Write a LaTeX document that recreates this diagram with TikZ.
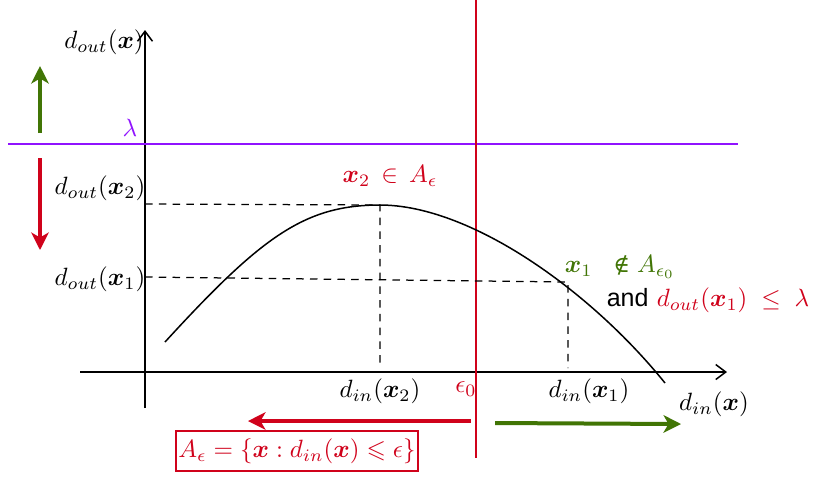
\documentclass[tikz,border=0pt]{standalone}
\usepackage{amsmath,amssymb,bm}
\usepackage{fontspec}
\newfontfamily\helv{Liberation Sans}
\newfontfamily\djs[Scale=0.9]{DejaVu Serif}
\usetikzlibrary{arrows.meta}
\definecolor{myred}{RGB}{208,2,27}
\definecolor{mygreen}{RGB}{65,117,5}
\definecolor{mypurple}{RGB}{144,19,254}
\tikzset{
  axis/.style={line width=0.6pt, -{Straight Barb[length=4pt,width=6pt]}},
  guide/.style={dashed, dash pattern=on 3pt off 2.5pt, line width=0.5pt},
  bigarrow/.style={line width=1.6pt, -{Stealth[length=7pt,width=7pt,inset=2pt]}},
  lbl/.style={inner sep=0.5pt},
}
\begin{document}
\begin{tikzpicture}[x=0.4pt,y=-0.4pt]
\useasboundingbox (0,0) rectangle (831,483);
% axes
\coordinate (yb) at (145,408);
\coordinate (yt) at (145,30);
\coordinate (xl) at (80,372);
\coordinate (xr) at (727,372);
\draw[axis] (yb) -- (yt);
\draw[axis] (xl) -- (xr);
% lambda line
\coordinate (la) at (8,144);
\coordinate (lb) at (738,144);
\draw[mypurple, line width=0.8pt] (la) -- (lb);
\node[lbl, text=mypurple] (lam) at (130,128) {$\lambda$};
% epsilon0 line
\coordinate (et) at (476,0);
\coordinate (eb) at (476,458);
\draw[myred, line width=0.6pt] (et) -- (eb);
% curve
\coordinate (c0) at (165,342);
\coordinate (p2) at (380,205);
\coordinate (c1) at (665,383);
\draw[line width=0.6pt] (c0) .. controls (262,236) and (305,205) .. (p2)
  .. controls (470,205) and (590,290) .. (c1);
% guides
\coordinate (y2) at (145,204);
\coordinate (x2b) at (380,368);
\coordinate (y1) at (145,277);
\coordinate (p1) at (568,282);
\coordinate (x1b) at (568,368);
\draw[guide] (y2) -- (p2) -- (x2b);
\draw[guide] (y1) -- (p1) -- (x1b);
% side arrows
\coordinate (gu0) at (40,133);
\coordinate (gu1) at (40,66);
\draw[bigarrow, mygreen] (gu0) -- (gu1);
\coordinate (rd0) at (40,158);
\coordinate (rd1) at (40,250);
\draw[bigarrow, myred] (rd0) -- (rd1);
% bottom arrows
\coordinate (ra0) at (471,421);
\coordinate (ra1) at (248,421);
\draw[bigarrow, myred] (ra0) -- (ra1);
\coordinate (ga0) at (495,423);
\coordinate (ga1) at (681,424);
\draw[bigarrow, mygreen] (ga0) -- (ga1);
% labels
\node[lbl] (ly) at (104,42) {$d_{out}(\bm{x})$};
\node[lbl] (ly2) at (100,188) {$d_{out}(\bm{x}_2)$};
\node[lbl] (ly1) at (100,279) {$d_{out}(\bm{x}_1)$};
\node[lbl, text=myred] (lx2) at (390,176) {$\bm{x}_2\,\in\,A_\epsilon$};
\node[lbl, text=mygreen] (lx1) at (620,267) {$\bm{x}_1\;\;\mathrel{\text{\djs ∉}}A_{\epsilon_0}$};
\node[lbl] (land) at (708,300) {{\helv and} \textcolor{myred}{$d_{out}(\bm{x}_1)\;\le\;\lambda$}};
\node[lbl] (ld2) at (380,391) {$d_{in}(\bm{x}_2)$};
\node[lbl, text=myred] (le0) at (466,389) {$\epsilon_0$};
\node[lbl] (ld1) at (589,391) {$d_{in}(\bm{x}_1)$};
\node[lbl] (ldx) at (714,404) {$d_{in}(\bm{x})$};
\node[draw=myred, line width=0.5pt, text=myred, minimum width=242*0.4pt, minimum height=40*0.4pt, inner sep=1pt] (box) at (297,451) {$A_\epsilon=\{\bm{x}:d_{in}(\bm{x})\leqslant\epsilon\}$};
\end{tikzpicture}
\end{document}
